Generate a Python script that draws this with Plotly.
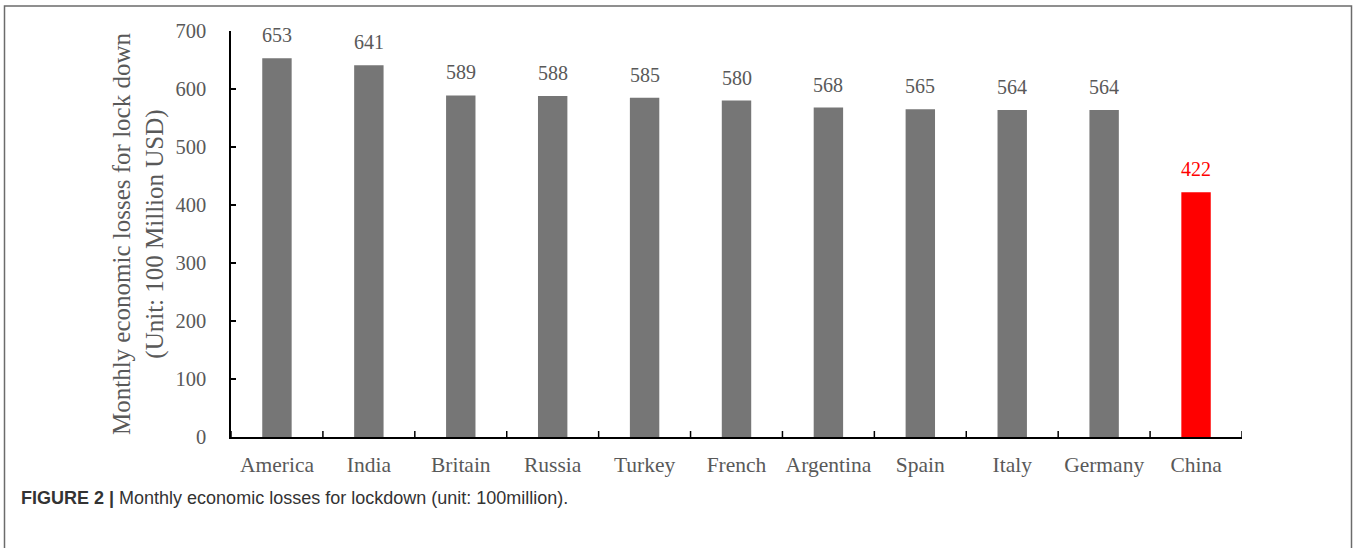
import plotly.graph_objects as go

countries = ["America", "India", "Britain", "Russia", "Turkey", "French",
             "Argentina", "Spain", "Italy", "Germany", "China"]
losses = [653, 641, 589, 588, 585, 580, 568, 565, 564, 564, 422]
y_ticks = [0, 100, 200, 300, 400, 500, 600, 700]

grey = "#767676"
text_grey = "#595959"
bar_colors = [grey] * (len(countries) - 1) + ["#ff0000"]
label_colors = [text_grey] * (len(countries) - 1) + ["#ff0000"]

W, H = 1357, 548
L, R, T, B = 231, 115, 31, 111
pw = W - L - R
ph = H - T - B

def px_x(x):
    return (x - L) / pw

def px_y(y):
    return (H - B - y) / ph

fig = go.Figure()
fig.add_trace(go.Bar(
    x=countries, y=losses,
    marker=dict(color=bar_colors, line=dict(width=0)),
    width=0.32,
))

shapes = [
    dict(type="rect", xref="paper", yref="paper",
         x0=px_x(4.5), x1=px_x(1351.5), y0=px_y(6), y1=px_y(560),
         line=dict(color="#6b6b6b", width=1.5), fillcolor="rgba(0,0,0,0)"),
]
for i in range(len(countries) + 1):
    shapes.append(dict(type="line", xref="x", yref="paper",
                       x0=i - 0.5, x1=i - 0.5, y0=0, y1=6 / ph,
                       line=dict(color="black", width=1.5)))

annotations = [
    dict(x=c, y=v, xref="x", yref="y", text=str(v), showarrow=False,
         yanchor="bottom", yshift=10,
         font=dict(family="Liberation Serif", size=20, color=col))
    for c, v, col in zip(countries, losses, label_colors)
]
annotations.append(
    dict(xref="paper", yref="paper", x=px_x(19), y=px_y(498),
         xanchor="left", yanchor="middle", showarrow=False,
         text="<b>FIGURE 2 |</b> Monthly economic losses for lockdown (unit: 100million).",
         font=dict(family="Liberation Sans", size=18, color="#333333")))

fig.update_layout(
    width=W, height=H,
    margin=dict(l=L, r=R, t=T, b=B),
    paper_bgcolor="white", plot_bgcolor="white",
    showlegend=False,
    font=dict(family="Liberation Serif", color=text_grey),
    xaxis=dict(
        range=[-0.5, len(countries) - 0.5],
        showline=True, linecolor="black", linewidth=1.5,
        ticks="", showgrid=False,
        ticklabelstandoff=7,
        tickfont=dict(family="Liberation Serif", size=21.5, color=text_grey),
    ),
    yaxis=dict(
        range=[0, 700],
        tickvals=y_ticks,
        showline=True, linecolor="black", linewidth=1.5,
        ticks="inside", ticklen=5, tickwidth=1.5, tickcolor="black",
        showgrid=False, zeroline=False,
        ticklabelstandoff=19,
        tickfont=dict(family="Liberation Serif", size=20.5, color=text_grey),
        title=dict(text="Monthly economic losses for lock down<br>(Unit: 100 Million USD)",
                   font=dict(family="Liberation Serif", size=25, color=text_grey),
                   standoff=5),
    ),
    shapes=shapes,
    annotations=annotations,
)

fig.write_html("out.html")
